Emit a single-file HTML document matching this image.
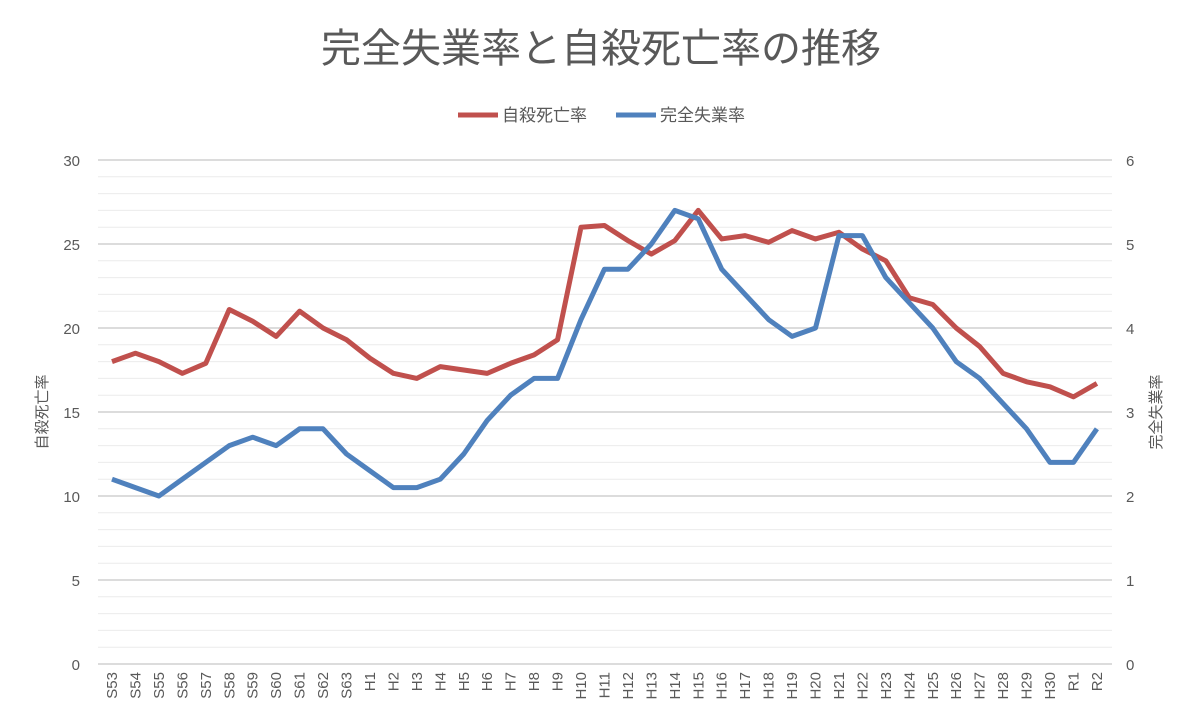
<!DOCTYPE html>
<html><head><meta charset="utf-8"><style>
body{margin:0;background:#fff;}
svg text{font-family:"Liberation Sans","Noto Sans CJK JP",sans-serif;fill:#595959;}
</style></head><body>
<svg width="1200" height="722" viewBox="0 0 1200 722" xmlns="http://www.w3.org/2000/svg">
<rect width="1200" height="722" fill="#fff"/>
<text x="601" y="62" font-size="40" text-anchor="middle">完全失業率と自殺死亡率の推移</text>
<line x1="458" y1="115" x2="498" y2="115" stroke="#c0504d" stroke-width="5"/>
<text x="502" y="121" font-size="17">自殺死亡率</text>
<line x1="616" y1="115" x2="656" y2="115" stroke="#4f81bd" stroke-width="5"/>
<text x="660" y="121" font-size="17">完全失業率</text>
<g id="grid"></g>
<g id="labels"></g>
<text transform="translate(47,412) rotate(-90)" font-size="15" text-anchor="middle">自殺死亡率</text>
<text transform="translate(1161,412) rotate(-90)" font-size="15" text-anchor="middle">完全失業率</text>
<polyline id="red" fill="none" stroke="#c0504d" stroke-width="5" stroke-linejoin="round"/>
<polyline id="blue" fill="none" stroke="#4f81bd" stroke-width="5" stroke-linejoin="round"/>
</svg>
<script>
var ns="http://www.w3.org/2000/svg";
function el(t,a,txt){var e=document.createElementNS(ns,t);for(var k in a)e.setAttribute(k,a[k]);if(txt!=null)e.textContent=txt;return e;}
var g=document.getElementById('grid'),lb=document.getElementById('labels');
for(var v=0;v<=30;v++){var y=664-v*16.8;var major=v%5==0;
g.appendChild(el('line',{x1:98,x2:1112,y1:y,y2:y,stroke:major?'#d0d0d0':'#ececec','stroke-width':major?1.5:1}));
if(major){g.appendChild(el('text',{x:80,y:y+6,'font-size':15,'text-anchor':'end'},v));
g.appendChild(el('text',{x:1126,y:y+6,'font-size':15},v/5));}}
var cats=[];for(var i=53;i<=63;i++)cats.push('S'+i);for(i=1;i<=30;i++)cats.push('H'+i);cats.push('R1','R2');
var red=[18.0,18.5,18.0,17.3,17.9,21.1,20.4,19.5,21.0,20.0,19.3,18.2,17.3,17.0,17.7,17.5,17.3,17.9,18.4,19.3,26.0,26.1,25.2,24.4,25.2,27.0,25.3,25.5,25.1,25.8,25.3,25.7,24.7,24.0,21.8,21.4,20.0,18.9,17.3,16.8,16.5,15.9,16.7];
var blue=[2.2,2.1,2.0,2.2,2.4,2.6,2.7,2.6,2.8,2.8,2.5,2.3,2.1,2.1,2.2,2.5,2.9,3.2,3.4,3.4,4.1,4.7,4.7,5.0,5.4,5.3,4.7,4.4,4.1,3.9,4.0,5.1,5.1,4.6,4.3,4.0,3.6,3.4,3.1,2.8,2.4,2.4,2.8];
var pr=[],pb=[];
cats.forEach(function(c,i){var x=112+23.45*i;
lb.appendChild(el('text',{transform:'translate('+(x+5)+',672) rotate(-90)','font-size':15,'text-anchor':'end'},c));
pr.push(x+','+(664-red[i]*16.8));pb.push(x+','+(664-blue[i]*84));});
document.getElementById('red').setAttribute('points',pr.join(' '));
document.getElementById('blue').setAttribute('points',pb.join(' '));
</script>
</body></html>
